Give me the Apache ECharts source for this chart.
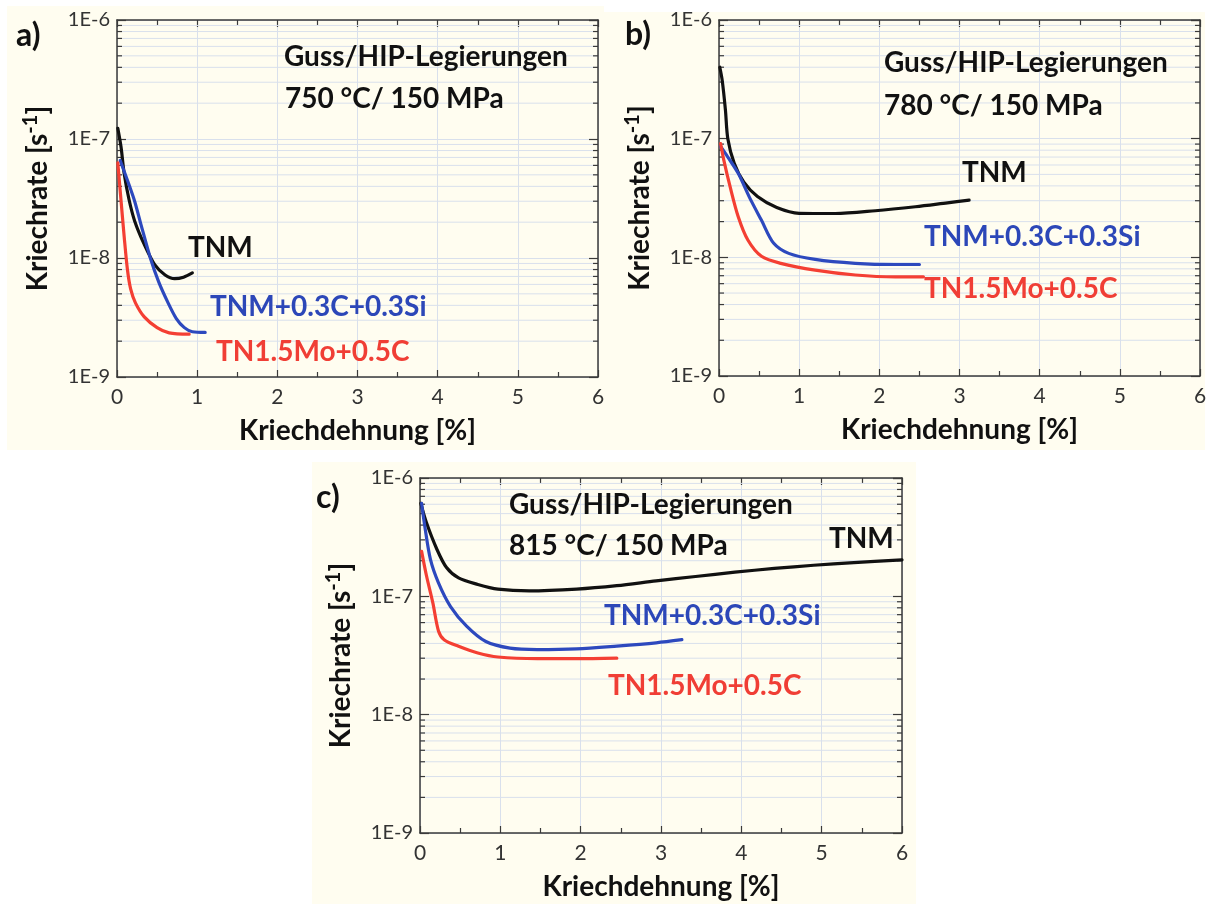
<!DOCTYPE html>
<html><head><meta charset="utf-8">
<script src="https://cdn.jsdelivr.net/npm/echarts/dist/echarts.min.js"></script>
<style>
html,body{margin:0;padding:0;background:#fff;}
#wrap{position:relative;width:1216px;height:904px;overflow:hidden;}
.bg{position:absolute;background:#fffdf0;}
#chart{position:absolute;left:0;top:0;width:1216px;height:904px;}
</style></head><body>
<div id="wrap">
<div class="bg" style="left:7px;top:6px;width:597px;height:444px"></div>
<div class="bg" style="left:604px;top:12px;width:601px;height:438px"></div>
<div class="bg" style="left:312px;top:462px;width:604px;height:442px"></div>
<div id="chart"></div></div>
<script>
// ---- data: [Kriechdehnung %, Kriechrate 1/s] ----
const a_TNM  = [[0.01,1.23e-7],[0.05,8.6e-8],[0.09,5.1e-8],[0.15,3.1e-8],[0.22,2.05e-8],[0.34,1.3e-8],[0.47,8.8e-9],[0.6,7.2e-9],[0.72,6.7e-9],[0.83,6.9e-9],[0.94,7.5e-9]];
const a_TNMCSi = [[0.04,6.6e-8],[0.13,4.5e-8],[0.22,3.0e-8],[0.3,1.9e-8],[0.42,9.8e-9],[0.52,6.3e-9],[0.63,4.3e-9],[0.74,3.1e-9],[0.84,2.6e-9],[0.94,2.4e-9],[1.1,2.37e-9]];
const a_TN15Mo = [[0.01,6.3e-8],[0.05,3.05e-8],[0.09,1.5e-8],[0.13,8e-9],[0.17,5.5e-9],[0.23,4.2e-9],[0.34,3.2e-9],[0.5,2.6e-9],[0.65,2.35e-9],[0.9,2.29e-9]];

const b_TNM  = [[0.01,4.0e-7],[0.04,3.1e-7],[0.08,1.75e-7],[0.11,1.0e-7],[0.19,6.2e-8],[0.31,4.3e-8],[0.48,3.25e-8],[0.72,2.63e-8],[1.0,2.35e-8],[1.45,2.34e-8],[1.95,2.47e-8],[2.45,2.67e-8],[2.85,2.88e-8],[3.12,3.03e-8]];
const b_TNMCSi = [[0.02,8.6e-8],[0.11,7.0e-8],[0.24,5.1e-8],[0.38,3.2e-8],[0.53,2.05e-8],[0.68,1.32e-8],[0.87,1.08e-8],[1.2,9.6e-9],[1.7,8.9e-9],[2.2,8.7e-9],[2.5,8.7e-9]];
const b_TN15Mo = [[0.02,9.1e-8],[0.06,6.6e-8],[0.14,3.9e-8],[0.24,2.2e-8],[0.36,1.4e-8],[0.53,1.02e-8],[0.77,8.9e-9],[1.2,7.8e-9],[1.7,7.1e-9],[2.2,6.85e-9],[2.55,6.85e-9]];

const c_TNM  = [[0.01,6.1e-7],[0.08,4.2e-7],[0.21,2.5e-7],[0.33,1.75e-7],[0.48,1.43e-7],[0.72,1.26e-7],[0.97,1.15e-7],[1.36,1.11e-7],[1.95,1.15e-7],[2.45,1.23e-7],[2.94,1.35e-7],[3.43,1.47e-7],[3.92,1.6e-7],[4.41,1.72e-7],[4.9,1.83e-7],[5.4,1.93e-7],[6.0,2.03e-7]];
const c_TNMCSi = [[0.02,6.1e-7],[0.06,3.9e-7],[0.13,2.05e-7],[0.23,1.3e-7],[0.38,8.2e-8],[0.58,5.6e-8],[0.82,4.15e-8],[1.12,3.65e-8],[1.46,3.55e-8],[1.95,3.6e-8],[2.45,3.8e-8],[2.94,4.05e-8],[3.26,4.3e-8]];
const c_TN15Mo = [[0.02,2.4e-7],[0.08,1.5e-7],[0.16,8.8e-8],[0.23,5.1e-8],[0.3,4.3e-8],[0.48,3.78e-8],[0.72,3.32e-8],[0.97,3.07e-8],[1.46,2.97e-8],[1.95,2.97e-8],[2.45,3.0e-8]];

const seriesNames = ['TNM','TNM+0.3C+0.3Si','TN1.5Mo+0.5C'];
const panelLabels = ['a)','b)','c)'];
const panelConditions = ['750 °C/ 150 MPa','780 °C/ 150 MPa','815 °C/ 150 MPa'];
const panelTitle = 'Guss/HIP-Legierungen';
const xAxisTitle = 'Kriechdehnung [%]';
const xMin = 0, xMax = 6, xInterval = 1;
const yMin = 1e-9, yMax = 1e-6;

// ---- styling / layout ----
const FONT = 'Lato';
const AX = '#3a3a3a';
const GRIDC = '#d9e0ec';
const colors = ['#111111', '#2d49be', '#f43f33'];
const textColors = ['#111111', '#2c47b8', '#f03e35'];
const grids = [
  {left:117, top:20, width:481, height:357},
  {left:719, top:20, width:481, height:356},
  {left:420, top:478, width:482, height:355}
];
const minorVals = [];
for (let e = -9; e < -6; e++) for (let m = 2; m <= 9; m++) minorVals.push(m * Math.pow(10, e));

const data = [[a_TNM,a_TNMCSi,a_TN15Mo],[b_TNM,b_TNMCSi,b_TN15Mo],[c_TNM,c_TNMCSi,c_TN15Mo]];

const xAxes = [], yAxes = [], series = [];
grids.forEach((g, gi) => {
  const tick = {show:true, inside:true, length:7, lineStyle:{color:AX, width:1.2}};
  const minor = {show:true, splitNumber:2, length:5, lineStyle:{color:AX, width:1.2}};
  xAxes.push({gridIndex:gi, type:'value', min:xMin, max:xMax, interval:xInterval, position:'bottom',
    axisLine:{show:true, onZero:false, lineStyle:{color:AX, width:1.5}},
    axisTick:tick, minorTick:minor,
    axisLabel:{fontSize:21, color:'#333', fontFamily:FONT, margin:10},
    splitLine:{show:true, lineStyle:{color:GRIDC, width:1}},
    name:xAxisTitle, nameLocation:'middle', nameGap:40,
    nameTextStyle:{fontSize:28, fontWeight:'bold', fontFamily:FONT, color:'#111'}});
  xAxes.push({gridIndex:gi, type:'value', min:xMin, max:xMax, interval:xInterval, position:'top',
    axisLine:{show:true, onZero:false, lineStyle:{color:AX, width:1.5}},
    axisTick:tick, minorTick:minor, axisLabel:{show:false}, splitLine:{show:false}});
  yAxes.push({gridIndex:gi, type:'log', logBase:10, min:yMin, max:yMax, position:'left',
    axisLine:{show:true, onZero:false, lineStyle:{color:AX, width:1.5}},
    axisTick:{show:true, inside:true, length:9, lineStyle:{color:AX, width:1.2}},
    axisLabel:{fontSize:20, color:'#333', fontFamily:FONT, margin:7,
      formatter: v => '1E' + Math.round(Math.log10(v))},
    splitLine:{show:true, lineStyle:{color:GRIDC, width:1}},
    name:'{a|Kriechrate [s}{sup|-1}{a|]}', nameLocation:'middle', nameGap:62,
    nameTextStyle:{rich:{
      a:{fontSize:28, fontWeight:'bold', fontFamily:FONT, color:'#111', lineHeight:34},
      sup:{fontSize:20, fontWeight:'bold', fontFamily:FONT, color:'#111', verticalAlign:'top', lineHeight:20}
    }}});
  yAxes.push({gridIndex:gi, type:'log', logBase:10, min:yMin, max:yMax, position:'right',
    axisLine:{show:true, onZero:false, lineStyle:{color:AX, width:1.5}},
    axisTick:{show:true, inside:true, length:9, lineStyle:{color:AX, width:1.2}},
    axisLabel:{show:false}, splitLine:{show:false}});

  series.push({type:'custom', xAxisIndex:gi*2, yAxisIndex:gi*2, silent:true, z:1,
    data:minorVals.map(v => [xMin, v]), encode:{x:0, y:1},
    renderItem:(params, api) => {
      const v = api.value(1);
      const p0 = api.coord([xMin, v]), p1 = api.coord([xMax, v]);
      return {type:'group', children:[
        {type:'line', shape:{x1:p0[0]+1, y1:p0[1], x2:p1[0]-1, y2:p1[1]}, style:{stroke:GRIDC, lineWidth:1}},
        {type:'line', shape:{x1:p0[0], y1:p0[1], x2:p0[0]+5, y2:p0[1]}, style:{stroke:AX, lineWidth:1.2}},
        {type:'line', shape:{x1:p1[0]-5, y1:p1[1], x2:p1[0], y2:p1[1]}, style:{stroke:AX, lineWidth:1.2}}
      ]};
    }});
  data[gi].forEach((d, si) => {
    series.push({type:'line', name:seriesNames[si], xAxisIndex:gi*2, yAxisIndex:gi*2, data:d,
      showSymbol:false, smooth:0.3, z:3,
      lineStyle:{color:colors[si], width:3.2, cap:'round', join:'round'}, itemStyle:{color:colors[si]}});
  });
});

// text annotations (pixel placement)
const txt = (text, x, y, size, color, weight) => ({type:'text', z:10,
  style:{text, x, y, font:(weight||'bold') + ' ' + size + 'px ' + FONT, fill:color,
    verticalAlign:'middle', textVerticalAlign:'middle'}});
const graphic = [
  txt(panelLabels[0], 16, 36, 32, '#111'),
  txt(panelTitle, 284, 57, 28, '#111'),
  txt(panelConditions[0], 285, 99, 28, '#111'),
  txt(seriesNames[0], 188, 248, 28, textColors[0]),
  txt(seriesNames[1], 210, 307, 28, textColors[1]),
  txt(seriesNames[2], 216, 352, 28, textColors[2]),

  txt(panelLabels[1], 625, 35, 32, '#111'),
  txt(panelTitle, 884, 63, 28, '#111'),
  txt(panelConditions[1], 884, 106, 28, '#111'),
  txt(seriesNames[0], 962, 173, 28, textColors[0]),
  txt(seriesNames[1], 924, 237, 28, textColors[1]),
  txt(seriesNames[2], 924, 289, 28, textColors[2]),

  txt(panelLabels[2], 316, 498, 32, '#111'),
  txt(panelTitle, 509, 505, 28, '#111'),
  txt(panelConditions[2], 509, 546, 28, '#111'),
  txt(seriesNames[0], 829, 539, 28, textColors[0]),
  txt(seriesNames[1], 604, 616, 28, textColors[1]),
  txt(seriesNames[2], 608, 686, 28, textColors[2])
];

const chart = echarts.init(document.getElementById('chart'), null, {renderer:'canvas'});
chart.setOption({
  backgroundColor:'transparent',
  animation:false,
  grid: grids.map(g => Object.assign({containLabel:false}, g)),
  xAxis: xAxes, yAxis: yAxes, series, graphic
});
</script></body></html>
